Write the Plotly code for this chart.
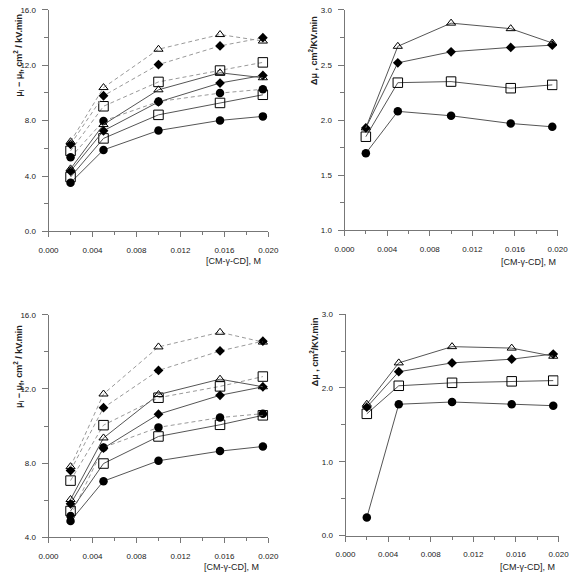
import plotly.graph_objects as go

W, H = 585, 583

conc = [0.002, 0.005, 0.010, 0.0156, 0.0195]

# Top-left panel (mu_i - mu_f)
tl_circle_solid = [3.52, 5.89, 7.29, 8.02, 8.31]
tl_square_solid = [3.93, 6.72, 8.42, 9.28, 9.87]
tl_diamond_solid = [4.35, 7.27, 9.35, 10.72, 11.27]
tl_triangle_solid = [4.52, 7.72, 10.23, 11.46, 11.10]
tl_circle_dash = [5.35, 7.98, 9.38, 9.99, 10.27]
tl_square_dash = [5.82, 9.04, 10.80, 11.62, 12.21]
tl_diamond_dash = [6.29, 9.80, 12.05, 13.40, 13.99]
tl_triangle_dash = [6.48, 10.39, 13.16, 14.22, 13.75]

# Top-right panel (delta mu)
tr_triangle = [1.93, 2.67, 2.88, 2.83, 2.70]
tr_diamond = [1.93, 2.52, 2.62, 2.66, 2.68]
tr_square = [1.85, 2.34, 2.35, 2.29, 2.32]
tr_circle = [1.70, 2.08, 2.04, 1.97, 1.94]

# Bottom-left panel (mu_i - mu_f)
bl_circle_solid = [4.88, 7.03, 8.13, 8.65, 8.90]
bl_square_solid = [5.42, 7.98, 9.44, 10.07, 10.58]
bl_diamond_solid = [5.81, 8.81, 10.64, 11.66, 12.12]
bl_triangle_solid = [6.04, 9.36, 11.70, 12.53, 12.12]
bl_circle_dash = [5.15, 8.85, 9.93, 10.46, 10.67]
bl_square_dash = [7.06, 10.05, 11.53, 12.14, 12.67]
bl_diamond_dash = [7.60, 10.99, 13.00, 14.05, 14.58]
bl_triangle_dash = [7.81, 11.73, 14.27, 15.06, 14.53]

# Bottom-right panel (delta mu)
br_triangle = [1.78, 2.34, 2.56, 2.54, 2.43]
br_diamond = [1.74, 2.22, 2.34, 2.39, 2.46]
br_square = [1.65, 2.03, 2.07, 2.09, 2.10]
br_circle = [0.245, 1.78, 1.81, 1.78, 1.76]

x_title = "[CM-γ-CD], M"
y_title_diff = "<b>μ<sub>i</sub> − μ<sub>f</sub>, cm<sup>2</sup> / kV.min</b>"
y_title_delta = "<b>Δμ , cm<sup>2</sup>/KV.min</b>"

MARK = {
    "circle": dict(symbol="circle", size=8.5, color="black"),
    "square": dict(symbol="square-open", size=9.5, color="black", line=dict(width=1, color="black")),
    "diamond": dict(symbol="diamond", size=7.5, color="black"),
    "triangle": dict(symbol="triangle-up-open", size=8, color="black", line=dict(width=1, color="black")),
}

fig = go.Figure()


def add(y, shape, dashed, xa, ya):
    fig.add_trace(go.Scatter(
        x=conc, y=y, mode="lines+markers",
        line=dict(color="#999999" if dashed else "#555555", width=1,
                  dash="4px,3px" if dashed else "solid"),
        marker=MARK[shape], xaxis=xa, yaxis=ya, showlegend=False,
    ))


for y, s in [(tl_circle_dash, "circle"), (tl_square_dash, "square"),
             (tl_diamond_dash, "diamond"), (tl_triangle_dash, "triangle")]:
    add(y, s, True, "x", "y")
for y, s in [(tl_circle_solid, "circle"), (tl_square_solid, "square"),
             (tl_diamond_solid, "diamond"), (tl_triangle_solid, "triangle")]:
    add(y, s, False, "x", "y")

for y, s in [(tr_circle, "circle"), (tr_square, "square"),
             (tr_diamond, "diamond"), (tr_triangle, "triangle")]:
    add(y, s, False, "x2", "y2")

for y, s in [(bl_circle_dash, "circle"), (bl_square_dash, "square"),
             (bl_diamond_dash, "diamond"), (bl_triangle_dash, "triangle")]:
    add(y, s, True, "x3", "y3")
for y, s in [(bl_circle_solid, "circle"), (bl_square_solid, "square"),
             (bl_diamond_solid, "diamond"), (bl_triangle_solid, "triangle")]:
    add(y, s, False, "x3", "y3")

for y, s in [(br_circle, "circle"), (br_square, "square"),
             (br_diamond, "diamond"), (br_triangle, "triangle")]:
    add(y, s, False, "x4", "y4")


def px(v):
    return v / W


def py(v):
    return 1 - v / H


tickfont = dict(family="Liberation Sans, Arial, sans-serif", size=8, color="#222222")


def xaxis(dom, anchor):
    return dict(domain=dom, anchor=anchor, range=[0, 0.020], tick0=0, dtick=0.004,
                tickformat=".3f", showline=True, linecolor="#777777", linewidth=1,
                ticks="outside", ticklen=5, tickwidth=1, tickcolor="#777777",
                minor=dict(dtick=0.002, ticks="outside", ticklen=3, tickcolor="#777777"),
                showgrid=False, zeroline=False, tickfont=tickfont, ticklabelstandoff=6)


def yaxis(dom, anchor, rng, dt):
    return dict(domain=dom, anchor=anchor, range=rng, tick0=rng[0], dtick=dt,
                tickformat=".1f", showline=True, linecolor="#777777", linewidth=1,
                ticks="outside", ticklen=6, tickwidth=1, tickcolor="#777777",
                minor=dict(dtick=dt / 2, ticks="outside", ticklen=4, tickcolor="#777777"),
                showgrid=False, zeroline=False, tickfont=tickfont, ticklabelstandoff=4)


fig.update_layout(
    width=W, height=H, margin=dict(l=0, r=0, t=0, b=0),
    plot_bgcolor="white", paper_bgcolor="white",
    xaxis=xaxis([px(40), px(268)], "y"),
    yaxis=yaxis([py(231), py(6)], "x", [0, 16], 4),
    xaxis2=xaxis([px(347), px(568)], "y2"),
    yaxis2=yaxis([py(230), py(6)], "x2", [1, 3], 0.5),
    xaxis3=xaxis([px(40), px(268)], "y3"),
    yaxis3=yaxis([py(541.7), py(315.7)], "x3", [4, 16], 4),
    xaxis4=xaxis([px(348), px(569)], "y4"),
    yaxis4=yaxis([py(540), py(315)], "x4", [0, 3], 1),
)

titlefont = dict(family="Liberation Sans, Arial, sans-serif", size=9, color="#222222")
ann = []
for (xr, yc) in [(262, 261), (568, 262), (260, 572), (567, 572)]:
    ann.append(dict(text=x_title, x=px(xr), y=py(yc), xref="paper", yref="paper",
                    xanchor="right", yanchor="middle", showarrow=False, font=titlefont))
for (xc, yc, t) in [(9, 52, y_title_diff), (315, 47, y_title_delta),
                    (9, 368, y_title_diff), (315, 353, y_title_delta)]:
    ann.append(dict(text=t, x=px(xc), y=py(yc), xref="paper", yref="paper",
                    xanchor="center", yanchor="middle", textangle=-90, showarrow=False,
                    font=titlefont))
fig.update_layout(annotations=ann)

fig.write_html("out.html")
